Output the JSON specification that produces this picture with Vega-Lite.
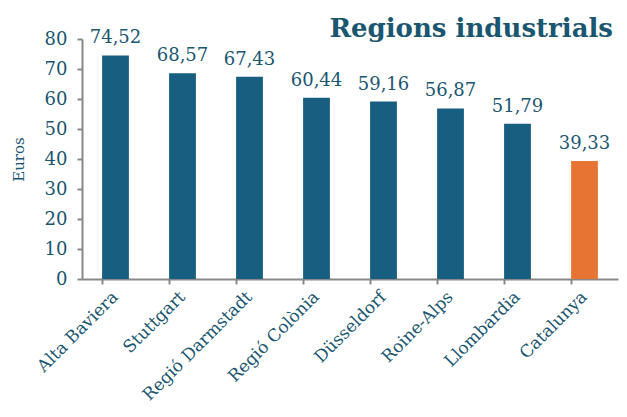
{
  "$schema": "https://vega.github.io/schema/vega-lite/v6.json",
  "autosize": "none",
  "width": 536,
  "height": 240,
  "padding": {"left": 82, "top": 39, "right": 9, "bottom": 138},
  "background": "white",
  "title": {
    "text": "Regions industrials",
    "anchor": "end",
    "frame": "group",
    "font": "DejaVu Serif",
    "fontSize": 26,
    "fontWeight": "bold",
    "color": "#1A5670",
    "offset": -13,
    "dx": -5
  },
  "data": {
    "values": [
      {"region": "Alta Baviera", "value": 74.52, "label": "74,52", "cat": "a"},
      {"region": "Stuttgart", "value": 68.57, "label": "68,57", "cat": "a"},
      {"region": "Regió Darmstadt", "value": 67.43, "label": "67,43", "cat": "a"},
      {"region": "Regió Colònia", "value": 60.44, "label": "60,44", "cat": "a"},
      {"region": "Düsseldorf", "value": 59.16, "label": "59,16", "cat": "a"},
      {"region": "Roine-Alps", "value": 56.87, "label": "56,87", "cat": "a"},
      {"region": "Llombardia", "value": 51.79, "label": "51,79", "cat": "a"},
      {"region": "Catalunya", "value": 39.33, "label": "39,33", "cat": "b"}
    ]
  },
  "encoding": {
    "x": {
      "field": "region",
      "type": "nominal",
      "sort": null,
      "scale": {"paddingInner": 0.6, "paddingOuter": 0.3},
      "axis": {
        "title": null,
        "labelAngle": -45,
        "labelAlign": "right",
        "labelBaseline": "middle",
        "labelFont": "DejaVu Serif",
        "labelFontSize": 17,
        "labelColor": "#1A5670",
        "labelPadding": 10,
        "bandPosition": 0,
        "tickSize": 5,
        "tickColor": "#888888",
        "domainColor": "#888888",
        "domainWidth": 2,
        "tickWidth": 2,
        "grid": false
      }
    },
    "y": {
      "field": "value",
      "type": "quantitative",
      "scale": {"domain": [0, 80]},
      "axis": {
        "title": "Euros",
        "titleFont": "DejaVu Serif",
        "titleFontSize": 15,
        "titleFontWeight": "normal",
        "titleColor": "#1A5670",
        "titlePadding": 18,
        "values": [0, 10, 20, 30, 40, 50, 60, 70, 80],
        "labelFont": "DejaVu Serif",
        "labelFontSize": 18,
        "labelColor": "#1A5670",
        "labelPadding": 10,
        "tickSize": 5,
        "tickColor": "#888888",
        "tickWidth": 2,
        "domainColor": "#888888",
        "domainWidth": 2,
        "grid": false
      }
    }
  },
  "layer": [
    {
      "mark": {"type": "bar"},
      "encoding": {
        "color": {
          "field": "cat",
          "type": "nominal",
          "scale": {"domain": ["a", "b"], "range": ["#175E80", "#E87433"]},
          "legend": null
        }
      }
    },
    {
      "mark": {
        "type": "text",
        "baseline": "bottom",
        "dy": -8,
        "font": "DejaVu Serif",
        "fontSize": 18,
        "color": "#1A5670"
      },
      "encoding": {"text": {"field": "label"}}
    }
  ],
  "config": {"view": {"stroke": null}}
}
